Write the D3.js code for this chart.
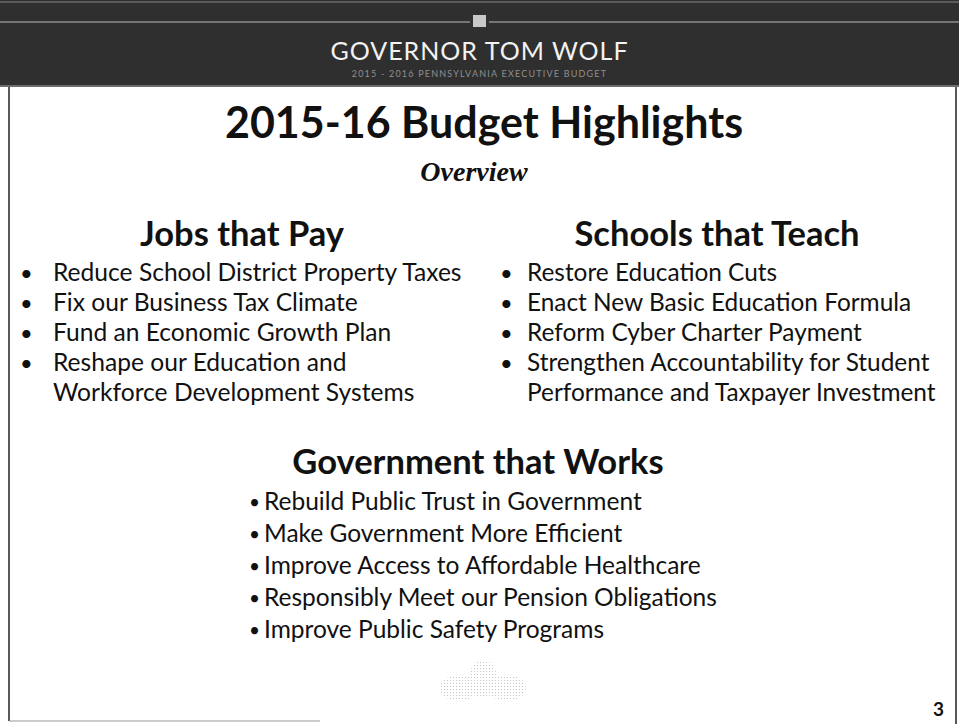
<!DOCTYPE html>
<html lang="en">
<head>
<meta charset="UTF-8">
<title>2015-16 Budget Highlights</title>
<style>
    body { margin: 0; background: #fff; }
    svg { display: block; }
    .bul { font-family: Lato, "Open Sans", sans-serif; fill: #111; }
</style>
</head>
<body>
<svg id="slide" width="959" height="724"></svg>
<script src="https://d3js.org/d3.v7.min.js"></script>
<script>
// slide text
var headerTitle = 'GOVERNOR TOM WOLF';
var headerSub = '2015 - 2016 PENNSYLVANIA EXECUTIVE BUDGET';
var title = '2015-16 Budget Highlights';
var subtitle = 'Overview';
var sectionNames = ['Jobs that Pay', 'Schools that Teach', 'Government that Works'];

// each entry is one printed line; cont = continuation line (no bullet)
var jobsLines = [
    { text: 'Reduce School District Property Taxes', cont: false },
    { text: 'Fix our Business Tax Climate', cont: false },
    { text: 'Fund an Economic Growth Plan', cont: false },
    { text: 'Reshape our Education and', cont: false },
    { text: 'Workforce Development Systems', cont: true }
];
var schoolsLines = [
    { text: 'Restore Education Cuts', cont: false },
    { text: 'Enact New Basic Education Formula', cont: false },
    { text: 'Reform Cyber Charter Payment', cont: false },
    { text: 'Strengthen Accountability for Student', cont: false },
    { text: 'Performance and Taxpayer Investment', cont: true }
];
var govLines = [
    'Rebuild Public Trust in Government',
    'Make Government More Efficient',
    'Improve Access to Affordable Healthcare',
    'Responsibly Meet our Pension Obligations',
    'Improve Public Safety Programs'
];
var pageNumber = '3';

var W = 959, H = 724;
var svg = d3.select('#slide');

// header band
svg.append('rect').attr('x', 0).attr('y', 0).attr('width', W).attr('height', 87).attr('fill', '#2f2f2f');
svg.append('line').attr('x1', 0).attr('x2', W).attr('y1', 2).attr('y2', 2).attr('stroke', '#888').attr('stroke-width', 1);
svg.append('line').attr('x1', 0).attr('x2', 470).attr('y1', 22).attr('y2', 22).attr('stroke', '#bbb').attr('stroke-width', 1);
svg.append('line').attr('x1', 489).attr('x2', W).attr('y1', 22).attr('y2', 22).attr('stroke', '#bbb').attr('stroke-width', 1);
svg.append('rect').attr('x', 473).attr('y', 15).attr('width', 13).attr('height', 12).attr('fill', '#c8c8c8');
svg.append('line').attr('x1', 0).attr('x2', W).attr('y1', 86).attr('y2', 86).attr('stroke', '#aaa').attr('stroke-width', 1);

svg.append('text')
    .attr('x', W / 2).attr('y', 60)
    .attr('text-anchor', 'middle')
    .style('font-family', 'Lato, sans-serif')
    .style('font-size', '25px')
    .style('letter-spacing', '1px')
    .attr('fill', '#f2f2f2')
    .text(headerTitle);

svg.append('text')
    .attr('x', W / 2).attr('y', 77)
    .attr('text-anchor', 'middle')
    .style('font-family', 'Lato, sans-serif')
    .style('font-size', '9px')
    .style('letter-spacing', '1.2px')
    .attr('fill', '#8f8f8f')
    .text(headerSub);

// slide border
svg.append('path')
    .attr('d', 'M9,87 V721 M956,87 V724')
    .attr('fill', 'none').attr('stroke', '#222').attr('stroke-width', 1.5);
svg.append('line')
    .attr('x1', 9).attr('x2', 320).attr('y1', 721).attr('y2', 721)
    .attr('stroke', '#999').attr('stroke-width', 1);

// titles
svg.append('text')
    .attr('x', 484).attr('y', 138)
    .attr('text-anchor', 'middle')
    .style('font-family', 'Lato, sans-serif')
    .style('font-weight', 'bold')
    .style('font-size', '43px')
    .attr('fill', '#111')
    .text(title);

svg.append('text')
    .attr('x', 474).attr('y', 181)
    .attr('text-anchor', 'middle')
    .style('font-family', '"Liberation Serif", serif')
    .style('font-style', 'italic')
    .style('font-weight', 'bold')
    .style('font-size', '28px')
    .attr('fill', '#111')
    .text(subtitle);

var heads = [
    { x: 242, y: 246 },
    { x: 717, y: 246 },
    { x: 478, y: 474 }
];
svg.selectAll('text.head')
    .data(sectionNames)
    .join('text')
    .attr('class', 'head')
    .attr('x', function(d, i) { return heads[i].x; })
    .attr('y', function(d, i) { return heads[i].y; })
    .attr('text-anchor', 'middle')
    .style('font-family', 'Lato, sans-serif')
    .style('font-weight', 'bold')
    .style('font-size', '34.5px')
    .attr('fill', '#111')
    .text(function(d) { return d; });

// two-column bullet lists
var rowY = d3.scalePoint().domain(d3.range(5)).range([281, 401]);

function drawColumn(lines, bx, tx, size) {
    var g = svg.append('g');
    g.selectAll('text.item')
        .data(lines)
        .join('text')
        .attr('class', 'bul item')
        .attr('x', tx)
        .attr('y', function(d, i) { return rowY(i); })
        .style('font-size', size + 'px')
        .text(function(d) { return d.text; });
    g.selectAll('text.dot')
        .data(lines.filter(function(d) { return !d.cont; }))
        .join('text')
        .attr('class', 'bul dot')
        .attr('x', bx)
        .attr('y', function(d) { return rowY(lines.indexOf(d)); })
        .style('font-size', '22px')
        .text('\u2022');
}
drawColumn(jobsLines, 20, 53, 24.6);
drawColumn(schoolsLines, 500, 527, 24.4);

// government list
var govY = d3.scalePoint().domain(d3.range(govLines.length)).range([510, 638]);
var gov = svg.append('g');
gov.selectAll('text.item')
    .data(govLines)
    .join('text')
    .attr('class', 'bul item')
    .attr('x', 264)
    .attr('y', function(d, i) { return govY(i); })
    .style('font-size', '24.5px')
    .text(function(d) { return d; });
gov.selectAll('text.dot')
    .data(govLines)
    .join('text')
    .attr('class', 'bul dot')
    .attr('x', 249)
    .attr('y', function(d, i) { return govY(i) - 1; })
    .style('font-size', '19px')
    .text('\u2022');

// faint state emblem (dotted)
var defs = svg.append('defs');
var pat = defs.append('pattern').attr('id', 'dots').attr('width', 3).attr('height', 3).attr('patternUnits', 'userSpaceOnUse');
pat.append('rect').attr('width', 1).attr('height', 1).attr('fill', '#c4c4c4');
var emb = svg.append('g').attr('transform', 'translate(483,683)').attr('fill', 'url(#dots)');
emb.append('ellipse').attr('cx', -24).attr('cy', 5).attr('rx', 19).attr('ry', 13);
emb.append('ellipse').attr('cx', 24).attr('cy', 5).attr('rx', 19).attr('ry', 13);
emb.append('ellipse').attr('cx', 0).attr('cy', -4).attr('rx', 14).attr('ry', 19);

svg.append('text')
    .attr('x', 944).attr('y', 716)
    .attr('text-anchor', 'end')
    .style('font-family', 'Lato, sans-serif')
    .style('font-weight', 'bold')
    .style('font-size', '19px')
    .attr('fill', '#111')
    .text(pageNumber);
</script>
</body>
</html>
